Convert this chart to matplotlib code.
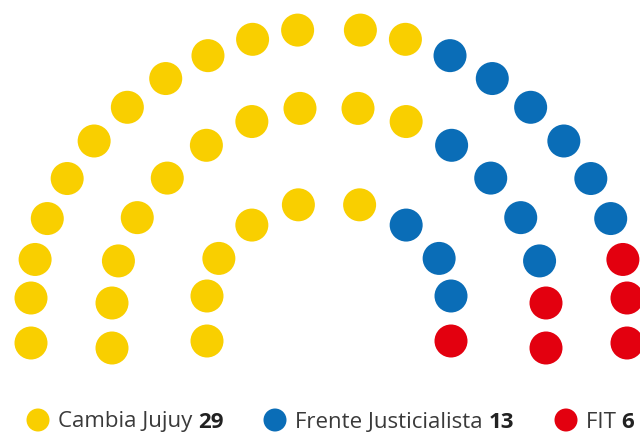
import numpy as np
import matplotlib
matplotlib.use('Agg')
import matplotlib.pyplot as plt
from matplotlib.patches import Circle

# Data
parties = ['Cambia Jujuy', 'Frente Justicialista', 'FIT']
seats = [29, 13, 6]
colors = ['#F9CF00', '#0A6DB7', '#E3000F']
row_seats = [22, 16, 10]  # outer -> inner

# Layout (pixel space of the 640x437 picture, y pointing down)
W, H = 640, 437
cx = 329
row_cy = [298, 303, 296]
row_a = [298, 217, 122]
row_b = [270, 197, 95]
row_gap = [0.75, 0.64, 0.64]  # extra half-step left open at the top of each arc
shape_n = 1.88   # superellipse exponent of the arcs
leg_drop = 45
dot_r = 16.5

fig = plt.figure(figsize=(W / 100, H / 100), dpi=100)
ax = fig.add_axes([0, 0, 1, 1])
ax.set_xlim(0, W)
ax.set_ylim(H, 0)
ax.set_aspect('equal')
ax.axis('off')


def quarter_arc(a, b, m, gap):
    # left quarter of a superellipse, m points at even parameter steps
    step = (np.pi / 2) / (m - 1 + gap)
    t = np.arange(m) * step
    x = -a * np.cos(t) ** (2 / shape_n)
    y = b * np.sin(t) ** (2 / shape_n)
    return x, y


# build seat positions per row: one leg seat each end + two arc halves
pos = []
for n, a, b, cy, g in zip(row_seats, row_a, row_b, row_cy, row_gap):
    m = (n - 2) // 2
    qx, qy = quarter_arc(a, b, m, g)
    xs = [cx - a] + list(cx + qx) + list(cx - qx[::-1]) + [cx + a]
    ys = [cy + leg_drop] + list(cy - qy) + list(cy - qy[::-1]) + [cy + leg_drop]
    for i, (x, y) in enumerate(zip(xs, ys)):
        pos.append((i / (n - 1), x, y))

# fill seats left to right across rows
pos.sort(key=lambda p: p[0])
seat_colors = []
for c, s in zip(colors, seats):
    seat_colors += [c] * s
for (f, x, y), c in zip(pos, seat_colors):
    ax.add_patch(Circle((x, y), dot_r, color=c, lw=0))

# legend
leg_x = [38, 275, 566]
leg_y = 420
fig.canvas.draw()
renderer = fig.canvas.get_renderer()
for name, s, c, lx in zip(parties, seats, colors, leg_x):
    ax.add_patch(Circle((lx, leg_y), 11.5, color=c, lw=0))
    t = ax.text(lx + 20, leg_y + 7.5, name + ' ', fontsize=16, family='Open Sans',
                color='#3a3a3a', va='baseline', ha='left')
    bb = t.get_window_extent(renderer)
    x_end = ax.transData.inverted().transform((bb.x1, bb.y0))[0]
    ax.text(x_end, leg_y + 7.5, str(s), fontsize=16, family='Open Sans',
            fontweight='bold', color='#222222', va='baseline', ha='left')

fig.savefig('out.png', dpi=100, facecolor='white')
